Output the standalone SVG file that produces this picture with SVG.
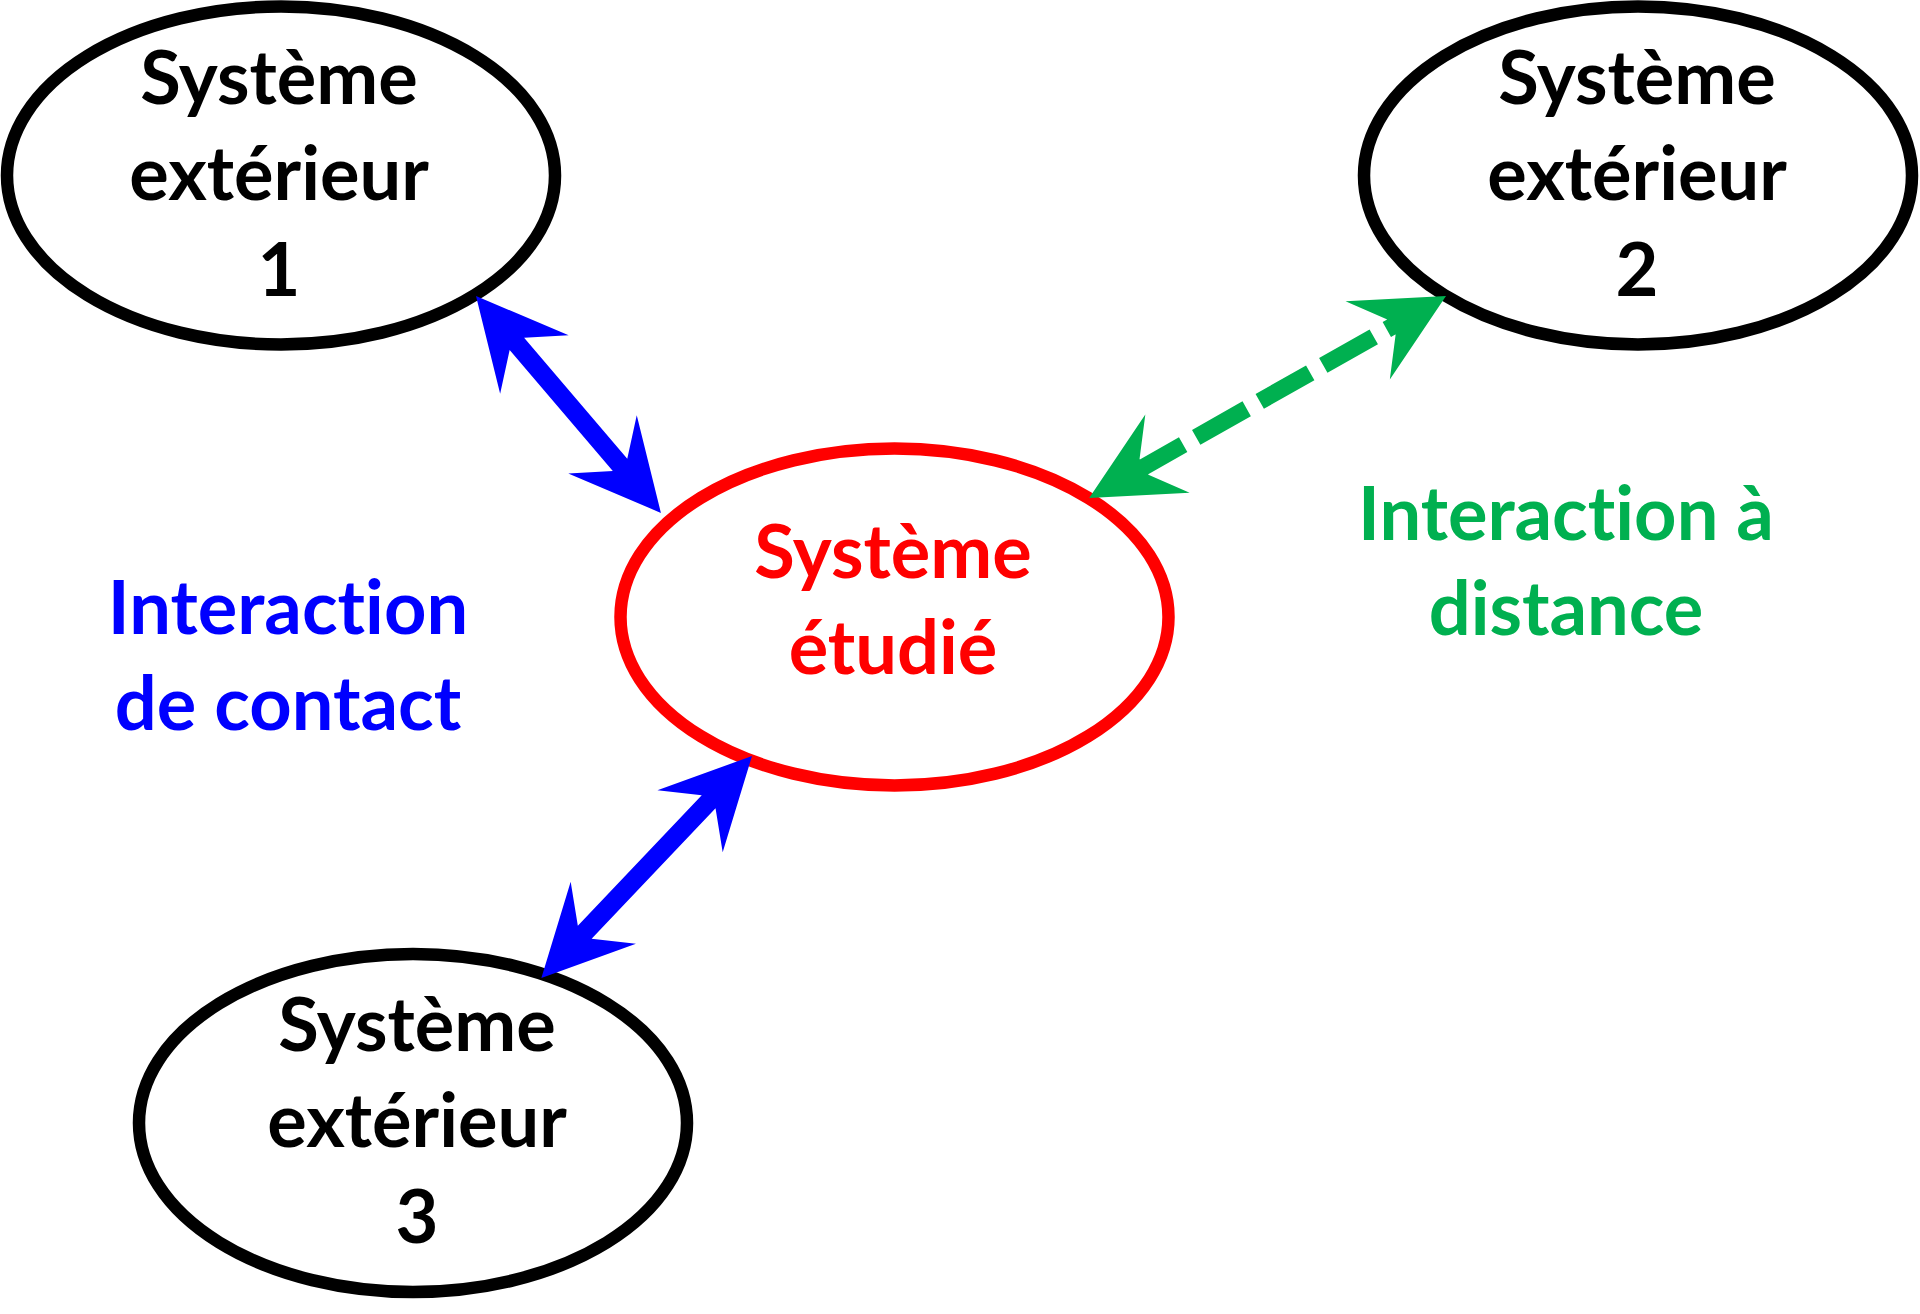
<svg xmlns="http://www.w3.org/2000/svg" width="1920" height="1314" viewBox="0 0 1920 1314">
<style>
.node ellipse{fill:#fff;stroke-width:12.5}
.ext ellipse{stroke:#000}
.main ellipse{stroke:#f00}
text{font-family:Lato,"Open Sans","Liberation Sans",sans-serif;font-weight:700;font-size:74px;text-anchor:middle;font-variant-ligatures:none;font-feature-settings:"liga" 0,"clig" 0}
.k{fill:#000}
.r{fill:#f00}
.b{fill:#00f}
.g{fill:#00B050}
.blue{fill:#00f}
.green{fill:#00B050}
.dash{stroke:#00B050;stroke-width:17;stroke-dasharray:58 15;stroke-dashoffset:45;fill:none}
</style>
<rect width="1920" height="1314" fill="#fff"/>
<g id="ext1" class="node ext">
<ellipse cx="281" cy="175.5" rx="274" ry="169"/>
<text class="k" x="279" y="104">Système</text>
<text class="k" x="279" y="200">extérieur</text>
<text class="k" x="279" y="296">1</text>
</g>
<g id="ext2" class="node ext">
<ellipse cx="1638" cy="175.5" rx="274" ry="169"/>
<text class="k" x="1637" y="104">Système</text>
<text class="k" x="1637" y="200">extérieur</text>
<text class="k" x="1637" y="296">2</text>
</g>
<g id="ext3" class="node ext">
<ellipse cx="413" cy="1123" rx="274" ry="169"/>
<text class="k" x="417" y="1051">Système</text>
<text class="k" x="417" y="1147">extérieur</text>
<text class="k" x="417" y="1243">3</text>
</g>
<g id="main" class="node main">
<ellipse cx="894.5" cy="617" rx="274" ry="168.5"/>
<text class="r" x="893" y="578">Système</text>
<text class="r" x="893" y="674">étudié</text>
</g>
<g id="label-contact">
<text class="b" x="288" y="634">Interaction</text>
<text class="b" x="288" y="730">de contact</text>
</g>
<g id="label-distance">
<text class="g" x="1566" y="540">Interaction à</text>
<text class="g" x="1566" y="635">distance</text>
</g>
<g id="connectors">
<polygon class="blue" transform="translate(476,296) rotate(49.55)" points="0,0 90,-45 63,-9.5 222,-9.5 195,-45 285,0 195,45 222,9.5 63,9.5 90,45"/>
<polygon class="blue" transform="translate(752,756) rotate(133.5)" points="0,0 90,-45 63,-9.5 243,-9.5 216,-45 306,0 216,45 243,9.5 63,9.5 90,45"/>
<g transform="translate(1446,296) rotate(150.5)">
<line class="dash" x1="55" y1="0" x2="355" y2="0"/>
<polygon class="green" points="0,0 90,-45 63,-9 63,9 90,45"/>
<polygon class="green" points="410,0 320,-45 347,-9 347,9 320,45"/>
</g>
</g>
</svg>
